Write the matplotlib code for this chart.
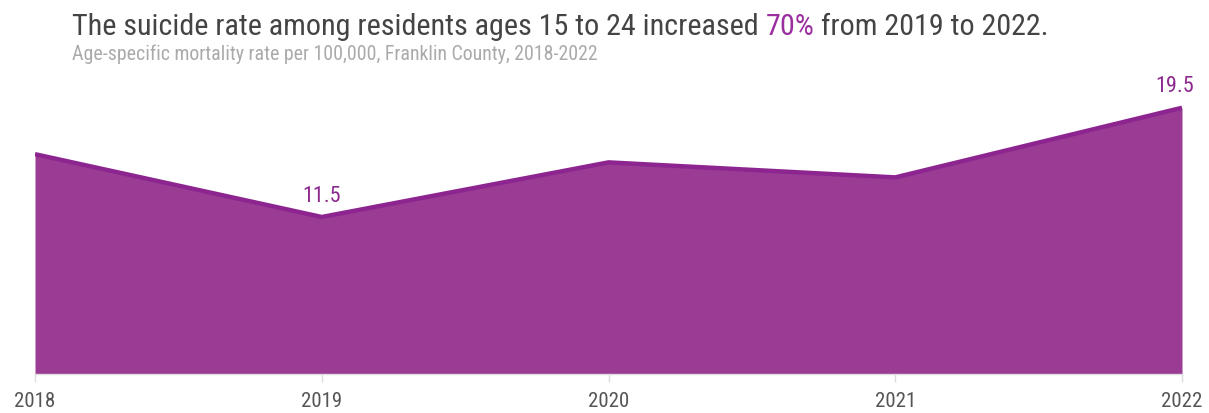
import matplotlib
matplotlib.use("Agg")
import matplotlib.pyplot as plt
from matplotlib import font_manager

years = [2018, 2019, 2020, 2021, 2022]
rates = [16.1, 11.5, 15.5, 14.4, 19.5]
labeled = {2019: "11.5", 2022: "19.5"}
tick_labels = ["2018", "2019", "2020", "2021", "2022"]

names = {f.name for f in font_manager.fontManager.ttflist}
FONT = "DejaVu Sans"
for cand in ["Liberation Sans Narrow", "Arial Narrow", "Roboto Condensed", "PT Sans Narrow",
             "Archivo Narrow", "Pragati Narrow", "Asap Condensed"]:
    if cand in names:
        FONT = cand
        break
plt.rcParams['font.family'] = [FONT, 'DejaVu Sans']

W, H = 1209, 413
fig = plt.figure(figsize=(W / 100, H / 100), dpi=100)
left, right = 35 / W, 1182 / W
bottom = (H - 374) / H
top = (H - 90) / H
ax = fig.add_axes([left, bottom, right - left, top - bottom])

fill_c = "#9a3c94"
line_c = "#8d2590"
ax.fill_between(years, rates, 0, color=fill_c, linewidth=0)
ax.plot(years, rates, color=line_c, linewidth=3.2, solid_capstyle="butt", solid_joinstyle="miter")
ax.set_xlim(2018, 2022)
ax.set_ylim(0, 20.8)
ax.set_xticks(years)
ax.set_xticklabels(tick_labels, fontsize=15, color="#555555")
ax.set_yticks([])
for s in ["top", "right", "left"]:
    ax.spines[s].set_visible(False)
ax.spines["bottom"].set_color("#dddddd")
ax.spines["bottom"].set_linewidth(1)
ax.tick_params(axis="x", length=6, color="#dddddd", width=1, pad=7)

for x, y in zip(years, rates):
    if x in labeled:
        dx = -5 if x == 2022 else 0
        ax.annotate(labeled[x], (x, y), xytext=(dx, 15), textcoords="offset points",
                    ha="center", va="center", fontsize=16, color="#8d2a8e")

# Title with colored segment
parts = [("The suicide rate among residents ages 15 to 24 increased ", "#444444"),
         ("70%", "#9b2fa0"),
         (" from 2019 to 2022.", "#444444")]
fig.canvas.draw()
r = fig.canvas.get_renderer()
x0 = 72 / W
ty = 1 - 35 / H
for txt, col in parts:
    t = fig.text(x0, ty, txt, fontsize=21.7, color=col, ha="left", va="baseline")
    bb = t.get_window_extent(renderer=r)
    x0 += bb.width / W

fig.text(72 / W, 1 - 60 / H, "Age-specific mortality rate per 100,000, Franklin County, 2018-2022",
         fontsize=14.3, color="#aaaaaa", ha="left", va="baseline")

fig.savefig("out.png", dpi=100)
